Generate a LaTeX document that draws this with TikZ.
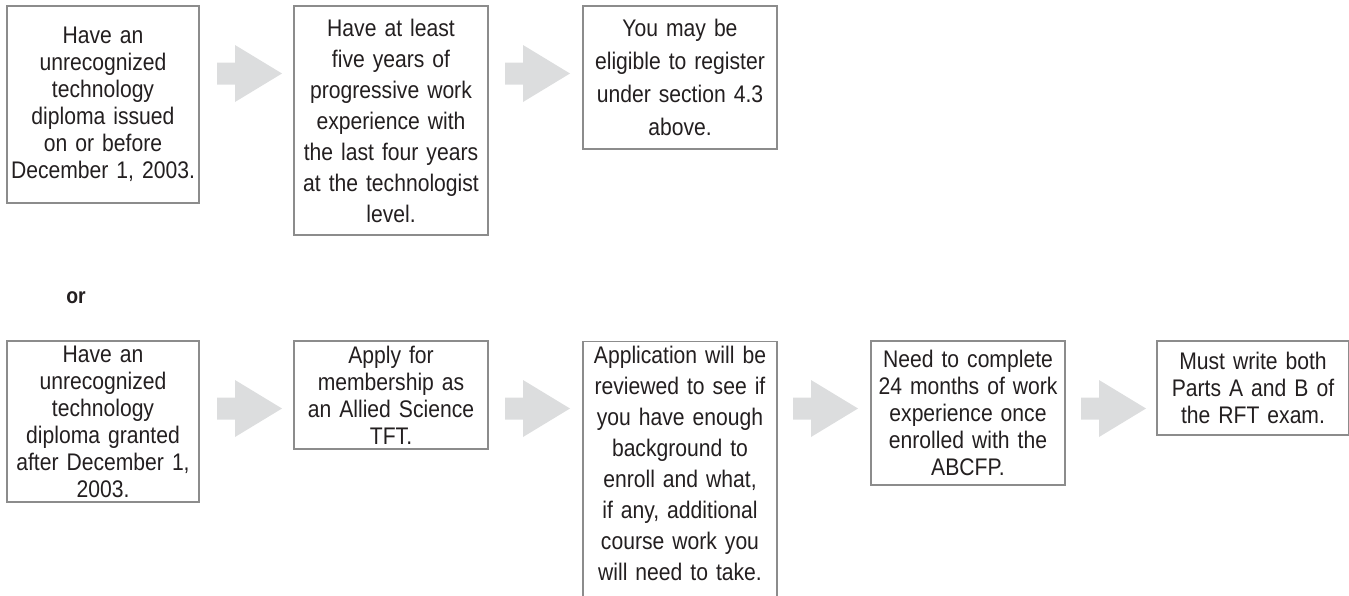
\documentclass[tikz,border=0pt]{standalone}
\usepackage{fontspec}
\setmainfont[FakeStretch=0.88]{Liberation Sans}
\definecolor{boxgray}{HTML}{8C8C8C}
\definecolor{arrowgray}{HTML}{DCDDDE}
\definecolor{textcol}{HTML}{231F20}
\tikzset{
  stepbox/.style={draw=boxgray, line width=1.3pt, fill=white, inner sep=0pt, align=center, text=textcol},
  txt/.style={inner sep=0pt, align=center, text=textcol},
  blockarrow/.pic={\fill[arrowgray] (0,-11) -- (18,-11) -- (18,-28.5) -- (65,0) -- (18,28.5) -- (18,11) -- (0,11) -- cycle;}
}
\newcommand{\fs}[1]{\fontsize{24}{#1}\selectfont}
\begin{document}
\begin{tikzpicture}[x=1pt,y=-1pt]
\useasboundingbox (0,0) rectangle (1349,595);
\clip (0,0) rectangle (1349,595);
% row 1
\node[stepbox, minimum width=192pt, minimum height=197pt, text width=188pt, font=\fs{27}] (b1) at (103,104.5)
  {Have an\\unrecognized\\technology\\diploma issued\\on or before\\December 1, 2003.};
\node[stepbox, minimum width=194pt, minimum height=229pt, text width=188pt, font=\fs{31}] (b2) at (391,120.5)
  {Have at least\\five years of\\progressive work\\experience with\\the last four years\\at the technologist\\level.};
\node[stepbox, minimum width=194pt, minimum height=143pt, text width=188pt, font=\fs{33}] (b3) at (680,77.5)
  {You may be\\eligible to register\\under section 4.3\\above.};
\pic at (217,73.5) {blockarrow};
\pic at (505,73.5) {blockarrow};
% or
\node[txt, font=\fontsize{22}{26}\selectfont\bfseries] (or) at (76,298) {or};
% row 2
\node[stepbox, minimum width=192pt, minimum height=161pt, text width=188pt, font=\fs{27}] (c1) at (103,421.5)
  {Have an\\unrecognized\\technology\\diploma granted\\after December 1,\\2003.};
\node[stepbox, minimum width=194pt, minimum height=108pt, text width=188pt, font=\fs{27}] (c2) at (391,395)
  {Apply for\\membership as\\an Allied Science\\TFT.};
\node[stepbox, minimum width=194pt, minimum height=280pt, anchor=north] (c3) at (680,341) {};
\node[txt, text width=188pt, font=\fs{31}, anchor=north] (c3t) at (680,346)
  {Application will be\\reviewed to see if\\you have enough\\background to\\enroll and what,\\if any, additional\\course work you\\will need to take.};
\node[stepbox, minimum width=194pt, minimum height=144pt, text width=188pt, font=\fs{27}] (c4) at (968,413)
  {Need to complete\\24 months of work\\experience once\\enrolled with the\\ABCFP.};
\node[stepbox, minimum width=192pt, minimum height=94pt, text width=188pt, font=\fs{27}] (c5) at (1253,388)
  {Must write both\\Parts A and B of\\the RFT exam.};
\pic at (217,408.5) {blockarrow};
\pic at (505,408.5) {blockarrow};
\pic at (793,408.5) {blockarrow};
\pic at (1081,408.5) {blockarrow};
\end{tikzpicture}
\end{document}
